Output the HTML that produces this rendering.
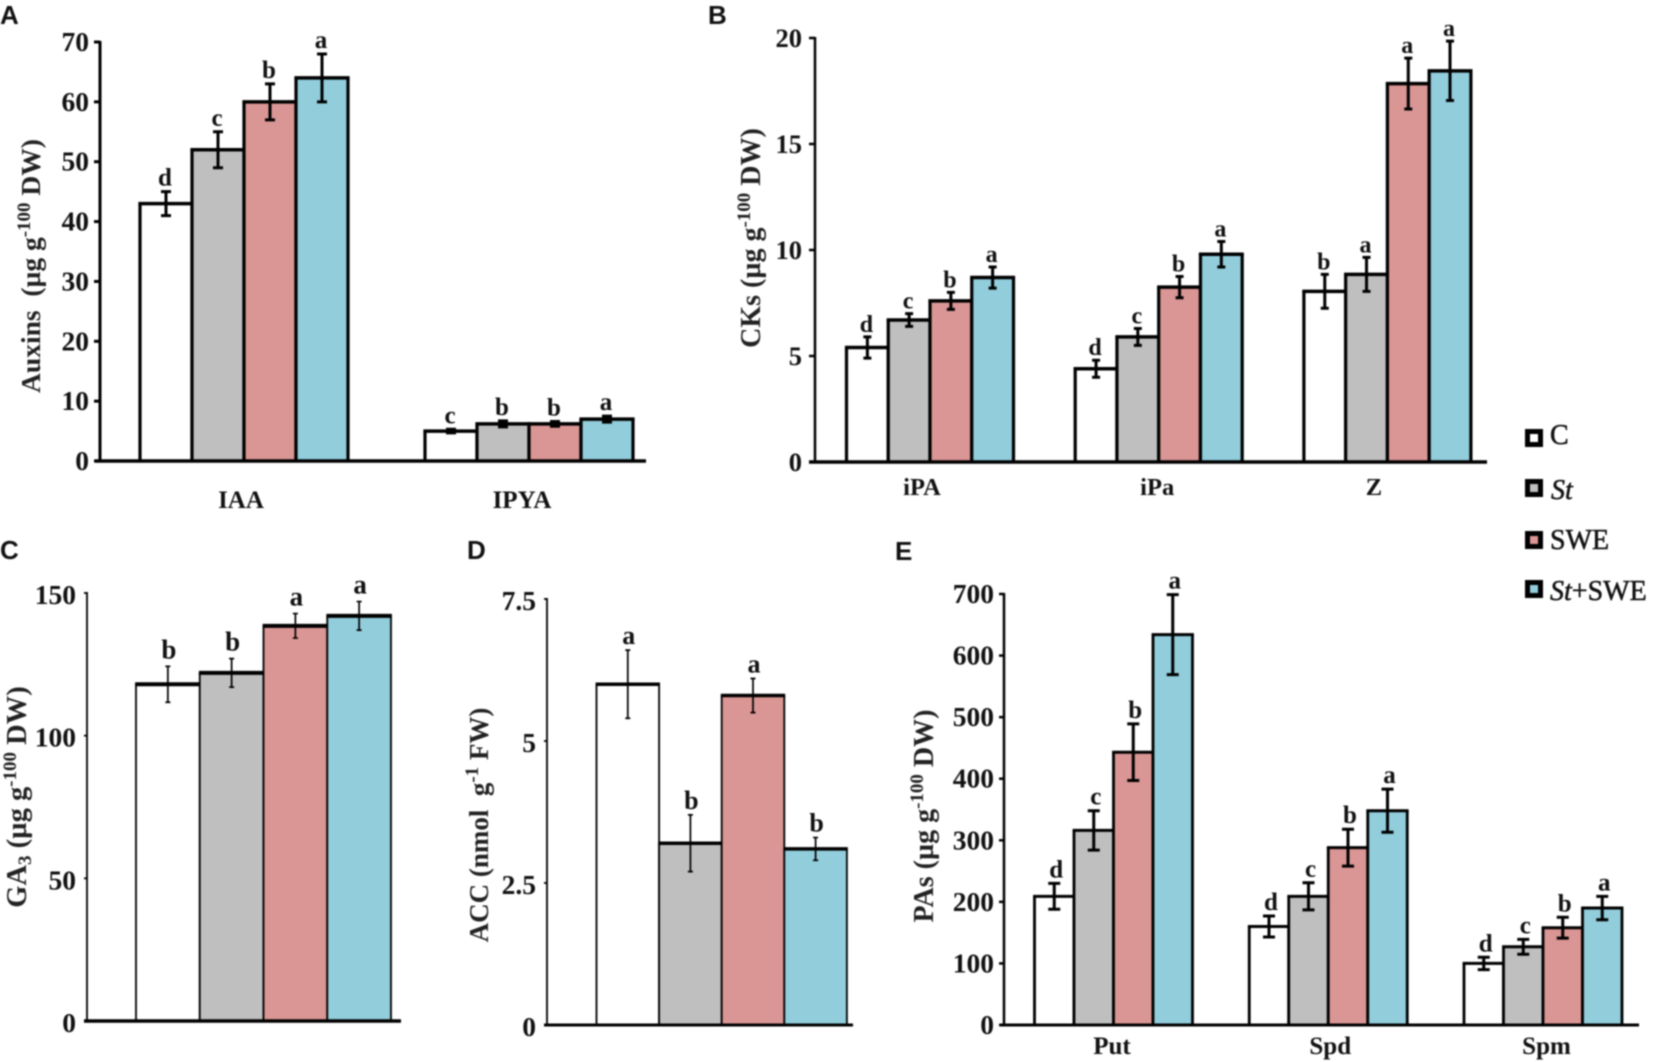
<!DOCTYPE html>
<html lang="en">
<head>
<meta charset="utf-8">
<title>Hormone levels by treatment</title>
<style>
html,body{margin:0;padding:0;background:#fff;}
svg{display:block;filter:blur(0.7px);}
text{font-family:"Liberation Serif",serif;fill:#111;}
.panel-letter{font-family:"Liberation Sans",sans-serif;font-weight:700;font-size:26px;}
.ytitle{font-weight:700;text-anchor:middle;fill:#222;}
.sup{font-size:19px;}
.legend-text{font-size:28px;stroke:#111;stroke-width:.5px;}
</style>
</head>
<body>
<svg id="figure" width="1654" height="1062" viewBox="0 0 1654 1062" xmlns="http://www.w3.org/2000/svg">
  <rect x="0" y="0" width="1654" height="1062" fill="#fff"/>

  <text class="panel-letter" x="0" y="24">A</text>
  <text class="panel-letter" x="708" y="24">B</text>
  <text class="panel-letter" x="0" y="559">C</text>
  <text class="panel-letter" x="467" y="559">D</text>
  <text class="panel-letter" x="895" y="560">E</text>

  <text class="ytitle" font-size="27.5" transform="translate(40 266) rotate(-90)">Auxins&#160; (µg g<tspan class="sup" dy="-10">-100</tspan><tspan dy="10"> DW)</tspan></text>
  <text class="ytitle" font-size="28" transform="translate(760 238) rotate(-90)">CKs (µg g<tspan class="sup" dy="-10">-100</tspan><tspan dy="10"> DW)</tspan></text>
  <text class="ytitle" font-size="28.5" transform="translate(26 797) rotate(-90)">GA<tspan class="sup" dy="5">3</tspan><tspan dy="-5"> (µg g</tspan><tspan class="sup" dy="-10">-100</tspan><tspan dy="10"> DW)</tspan></text>
  <text class="ytitle" font-size="27" transform="translate(488 825) rotate(-90)">ACC (nmol&#160; g<tspan class="sup" dy="-10">-1</tspan><tspan dy="10"> FW)</tspan></text>
  <text class="ytitle" font-size="28" transform="translate(933 816) rotate(-90)">PAs (µg g<tspan class="sup" dy="-10">-100</tspan><tspan dy="10"> DW)</tspan></text>

  <g>
    <rect x="1527.5" y="431.5" width="13" height="13" fill="#ffffff" stroke="#000" stroke-width="5"/>
    <text class="legend-text" x="1550" y="444">C</text>
    <rect x="1527.5" y="481.5" width="13" height="13" fill="#bfbfbf" stroke="#000" stroke-width="5"/>
    <text class="legend-text" x="1551" y="499" font-style="italic">St</text>
    <rect x="1527.5" y="533.5" width="13" height="13" fill="#da9694" stroke="#000" stroke-width="5"/>
    <text class="legend-text" x="1550" y="549">SWE</text>
    <rect x="1527.5" y="582.5" width="13" height="13" fill="#92cddc" stroke="#000" stroke-width="5"/>
    <text class="legend-text" x="1550" y="600"><tspan font-style="italic">St</tspan>+SWE</text>
  </g>
</svg>

<script>
// Shared series
const seriesNames = ['C', 'St', 'SWE', 'St+SWE'];
const seriesColors = ['#ffffff', '#bfbfbf', '#da9694', '#92cddc'];

// Panel A: auxins
const aCategories = ['IAA', 'IPYA'];
const aValues = [[43, 52, 60, 64], [5, 6.2, 6.2, 7]];
const aErrors = [[2, 3, 3, 4], [0.3, 0.5, 0.4, 0.5]];
const aLetters = [['d', 'c', 'b', 'a'], ['c', 'b', 'b', 'a']];
const aTicks = [0, 10, 20, 30, 40, 50, 60, 70];

// Panel B: cytokinins
const bCategories = ['iPA', 'iPa', 'Z'];
const bValues = [[5.4, 6.7, 7.6, 8.7], [4.4, 5.9, 8.25, 9.8], [8.05, 8.85, 17.85, 18.45]];
const bErrors = [[0.5, 0.3, 0.4, 0.5], [0.4, 0.4, 0.5, 0.6], [0.8, 0.8, 1.2, 1.4]];
const bLetters = [['d', 'c', 'b', 'a'], ['d', 'c', 'b', 'a'], ['b', 'a', 'a', 'a']];
const bTicks = [0, 5, 10, 15, 20];

// Panel C: GA3
const cCategories = [''];
const cValues = [[118, 122, 138.5, 142]];
const cErrors = [[6.3, 5, 4.3, 5]];
const cLetters = [['b', 'b', 'a', 'a']];
const cTicks = [0, 50, 100, 150];

// Panel D: ACC
const dCategories = [''];
const dValues = [[6, 3.2, 5.8, 3.1]];
const dErrors = [[0.6, 0.5, 0.3, 0.2]];
const dLetters = [['a', 'b', 'a', 'b']];
const dTicks = [0, 2.5, 5, 7.5];

// Panel E: polyamines
const eCategories = ['Put', 'Spd', 'Spm'];
const eValues = [[209, 316, 443, 634], [160, 209, 288, 348], [100, 127, 158, 190]];
const eErrors = [[21, 32, 46, 65], [17, 22, 30, 35], [10, 12, 17, 19]];
const eLetters = [['d', 'c', 'b', 'a'], ['d', 'c', 'b', 'a'], ['d', 'c', 'b', 'a']];
const eTicks = [0, 100, 200, 300, 400, 500, 600, 700];

const SVG_NS = 'http://www.w3.org/2000/svg';
const figure = document.getElementById('figure');

function make(tag, attrs, parent) {
  const el = document.createElementNS(SVG_NS, tag);
  for (const k in attrs) el.setAttribute(k, attrs[k]);
  parent.appendChild(el);
  return el;
}

function drawPanel(key, cats, values, errors, letters, ticks, cfg) {
  const g = make('g', {}, figure);
  
  

  const maxTick = ticks[ticks.length - 1];
  const y = v => cfg.y0 - (v / maxTick) * (cfg.y0 - cfg.yTop);
  const barX = (c, s) => cfg.firstBar + c * cfg.groupStep + s * cfg.barW;

  cats.forEach((cat, c) => {
    values[c].forEach((val, s) => {
      const left = barX(c, s), right = left + cfg.barW, top = y(val);
      const fill = make('rect', { x: left, y: top, width: cfg.barW, height: cfg.y0 - top, fill: seriesColors[s] }, g);
      
      

      const sides = make('path', { d: 'M' + left + ' ' + cfg.y0 + 'V' + top + 'M' + right + ' ' + top + 'V' + cfg.y0, fill: 'none', stroke: '#000', 'stroke-width': cfg.sideW }, g);
      
      

      const topLine = make('line', { x1: left - cfg.sideW / 2, x2: right + cfg.sideW / 2, y1: top, y2: top, stroke: '#000', 'stroke-width': cfg.topW }, g);
      
      
    });
  });

  cats.forEach((cat, c) => {
    values[c].forEach((val, s) => {
      const cx = barX(c, s) + cfg.barW / 2;
      const hi = y(val + errors[c][s]), lo = y(val - errors[c][s]);
      const err = make('path', {
        d: 'M' + cx + ' ' + hi + 'V' + lo +
           'M' + (cx - cfg.capW / 2) + ' ' + hi + 'h' + cfg.capW +
           'M' + (cx - cfg.capW / 2) + ' ' + lo + 'h' + cfg.capW,
        fill: 'none', stroke: '#000', 'stroke-width': cfg.errW
      }, g);
      
      

      const letter = make('text', {
        x: cx + cfg.letterDx, y: hi - cfg.letterGap, 'text-anchor': 'middle',
        'font-weight': 700, 'font-size': cfg.letterSize
      }, g);
      letter.textContent = letters[c][s];
      
      
    });
  });

  const yAxis = make('line', { x1: cfg.axisX, x2: cfg.axisX, y1: cfg.yTop - 1, y2: cfg.y0, stroke: '#000', 'stroke-width': cfg.axisW }, g);
  
  

  const xAxis = make('line', { x1: cfg.xStart, x2: cfg.xEnd, y1: cfg.y0, y2: cfg.y0, stroke: '#000', 'stroke-width': cfg.baseW }, g);
  
  

  ticks.forEach(t => {
    const tick = make('line', { x1: cfg.axisX - cfg.tickLen, x2: cfg.axisX, y1: y(t), y2: y(t), stroke: '#000', 'stroke-width': cfg.axisW }, g);
    
    

    const label = make('text', {
      x: cfg.axisX - cfg.tickGap, y: y(t) + cfg.tickDy, 'text-anchor': 'end',
      'font-weight': 700, 'font-size': cfg.tickSize
    }, g);
    label.textContent = t;
    
    
  });

  cats.forEach((cat, c) => {
    if (!cat) return;
    const label = make('text', {
      x: barX(c, 2) + cfg.catDx[c], y: cfg.catY, 'text-anchor': 'middle',
      'font-weight': 700, 'font-size': cfg.catSize
    }, g);
    label.textContent = cat;
    
    
  });
}

drawPanel('a', aCategories, aValues, aErrors, aLetters, aTicks, {
  axisX: 100, y0: 461, yTop: 42, firstBar: 140, barW: 52, groupStep: 285,
  xStart: 95, xEnd: 646, sideW: 3.2, topW: 3.5, baseW: 3.5, axisW: 3, errW: 3, capW: 10,
  tickLen: 6, tickGap: 11, tickDy: 9, tickSize: 27.5, letterGap: 6, letterDx: -1, letterSize: 25,
  catDx: [-3, -7], catY: 508, catSize: 25
});
drawPanel('b', bCategories, bValues, bErrors, bLetters, bTicks, {
  axisX: 815, y0: 462, yTop: 38, firstBar: 846.5, barW: 41.75, groupStep: 228.7,
  xStart: 809, xEnd: 1487, sideW: 3.2, topW: 3.5, baseW: 3.5, axisW: 2.5, errW: 3, capW: 8,
  tickLen: 6, tickGap: 13, tickDy: 9, tickSize: 26.5, letterGap: 5, letterDx: -1, letterSize: 24,
  catDx: [-8, -1.5, -13.5], catY: 495, catSize: 24.5
});
drawPanel('c', cCategories, cValues, cErrors, cLetters, cTicks, {
  axisX: 87, y0: 1021, yTop: 593, firstBar: 136, barW: 63.75, groupStep: 0,
  xStart: 84, xEnd: 401, sideW: 1.8, topW: 4, baseW: 3.5, axisW: 1.8, errW: 1.7, capW: 5,
  tickLen: 3, tickGap: 11, tickDy: 11, tickSize: 27.5, letterGap: 8, letterDx: 1, letterSize: 27,
  catDx: [0], catY: 0, catSize: 23
});
drawPanel('d', dCategories, dValues, dErrors, dLetters, dTicks, {
  axisX: 547, y0: 1025, yTop: 599, firstBar: 596.5, barW: 62.6, groupStep: 0,
  xStart: 544, xEnd: 853, sideW: 1.8, topW: 3.5, baseW: 3, axisW: 1.8, errW: 1.7, capW: 5,
  tickLen: 3, tickGap: 11, tickDy: 11, tickSize: 27.5, letterGap: 6, letterDx: 1, letterSize: 26,
  catDx: [0], catY: 0, catSize: 23
});
drawPanel('e', eCategories, eValues, eErrors, eLetters, eTicks, {
  axisX: 1004, y0: 1025, yTop: 594, firstBar: 1034.5, barW: 39.5, groupStep: 214.75,
  xStart: 1000, xEnd: 1639, sideW: 2.8, topW: 3, baseW: 3, axisW: 2.5, errW: 3, capW: 12,
  tickLen: 5, tickGap: 10, tickDy: 9, tickSize: 27.5, letterGap: 6, letterDx: 2, letterSize: 25,
  catDx: [-1.5, 2, 3.5], catY: 1054, catSize: 25
});
</script>
</body>
</html>
